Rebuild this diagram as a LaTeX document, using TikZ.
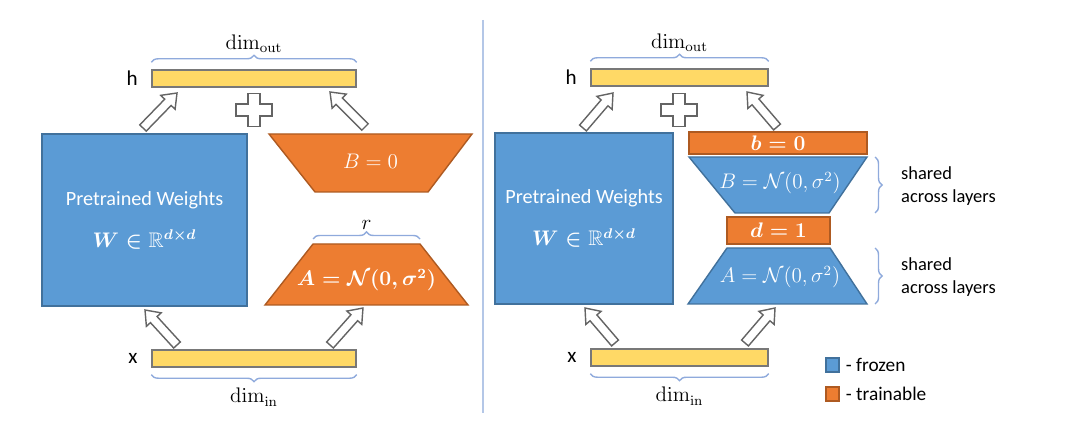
\documentclass[tikz,border=0pt]{standalone}
\usepackage[no-math]{fontspec}
\setmainfont{Carlito}
\usepackage{amsmath,amssymb}
\usetikzlibrary{positioning,calc,decorations.pathreplacing}
\definecolor{frz}{RGB}{91,155,213}
\definecolor{frzedge}{RGB}{65,113,156}
\definecolor{trn}{RGB}{237,125,49}
\definecolor{trnedge}{RGB}{174,90,33}
\definecolor{vecfill}{RGB}{255,217,102}
\definecolor{vecedge}{RGB}{120,120,120}
\definecolor{brc}{RGB}{143,170,220}
\definecolor{sepline}{RGB}{180,199,231}
\definecolor{arr}{RGB}{100,100,100}
\tikzset{
  vec/.style={draw=vecedge,fill=vecfill,thick,minimum height=3.4mm,inner sep=0pt},
  frozen/.style={draw=frzedge,fill=frz,thick},
  trainable/.style={draw=trnedge,fill=trn,thick},
  inbox/.style={text=white,font=\fontsize{11.5}{14}\selectfont,align=center},
  mtxt/.style={text=white,font=\fontsize{12}{14}\selectfont},
  mbold/.style={text=white,font=\fontsize{12}{14}\selectfont\boldmath},
  lbl/.style={font=\fontsize{12}{14}\selectfont},
  dimlbl/.style={font=\fontsize{12}{14}\selectfont},
  curly/.style={draw=brc,thick,decorate,decoration={brace,amplitude=4pt}},
  hollow/.style={draw=arr,fill=white,line width=0.8pt},
  note/.style={font=\fontsize{10.5}{13}\selectfont,align=left,anchor=west},
  key/.style={font=\fontsize{11}{13}\selectfont},
  % pictograms
  pics/plus/.style={code={
    \draw[hollow] (-0.12,0.33) -- (0.12,0.33) -- (0.12,0.12) -- (0.36,0.12) -- (0.36,-0.12) -- (0.12,-0.12)
      -- (0.12,-0.33) -- (-0.12,-0.33) -- (-0.12,-0.12) -- (-0.36,-0.12) -- (-0.36,0.12) -- (-0.12,0.12) -- cycle;
  }},
}
% hollow block arrow from #1 to #2
\newcommand{\blockarrow}[2]{%
  \path let \p1=($(#2)-(#1)$) in \pgfextra{%
    \pgfmathsetmacro{\arrang}{atan2(\y1,\x1)}%
    \pgfmathsetmacro{\arrlen}{veclen(\x1,\y1)/28.45274}%
    \xdef\arrang{\arrang}\xdef\arrlen{\arrlen}};
  \begin{scope}[shift={(#1)},rotate=\arrang]
    \draw[hollow] (0,-0.09) -- (\arrlen-0.26,-0.09) -- (\arrlen-0.26,-0.2) -- (\arrlen,0)
      -- (\arrlen-0.26,0.2) -- (\arrlen-0.26,0.09) -- (0,0.09) -- cycle;
  \end{scope}}

\begin{document}
\begin{tikzpicture}
  \useasboundingbox (0,0) rectangle (21.6,8.58);
  % ---- left: LoRA
  \node[vec,minimum width=40.8mm] (hL) at (5.08,7.01) {};
  \node[lbl,left=1.5mm of hL] (hLl) {h};
  \draw[curly] ([yshift=1.4mm]hL.north west) -- ([yshift=1.4mm]hL.north east)
    node[midway,above=0.6mm,dimlbl] (doL) {$\mathrm{dim}_{\mathrm{out}}$};
  \node[vec,minimum width=40.8mm] (xL) at (5.08,1.41) {};
  \node[lbl,left=1.5mm of xL] (xLl) {x};
  \draw[curly] ([yshift=-1.4mm]xL.south east) -- ([yshift=-1.4mm]xL.south west)
    node[midway,below=1.4mm,dimlbl] (diL) {$\mathrm{dim}_{\mathrm{in}}$};
  \node[frozen,minimum width=41mm,minimum height=34.4mm,inbox] (WL) at (2.89,4.18)
    {Pretrained Weights\\[3.5mm]{\fontsize{12}{14}\selectfont\boldmath$W\in\mathbb{R}^{d\times d}$}};
  \filldraw[trainable] (5.38,5.9) -- (9.44,5.9) -- (8.56,4.74) -- (6.3,4.74) -- cycle;
  \node[mtxt] (BL) at (7.41,5.36) {$B=0$};
  \filldraw[trainable] (6.26,3.7) -- (8.4,3.7) -- (9.36,2.48) -- (5.3,2.48) -- cycle;
  \node[mbold] (AL) at (7.33,2.98) {$A=\mathcal{N}(0,\sigma^2)$};
  \draw[curly] (6.26,3.8) -- (8.4,3.8) node[midway,above=0.5mm,dimlbl] (rL) {$r$};
  \pic at (5.08,6.38) {plus};
  \coordinate (WLo) at (2.86,6.02); \coordinate (hLa) at (3.54,6.72);
  \coordinate (BLo) at (7.3,6.04);  \coordinate (hLb) at (6.6,6.74);
  \coordinate (xLa) at (3.54,1.68); \coordinate (WLi) at (2.9,2.38);
  \coordinate (xLb) at (6.6,1.68);  \coordinate (ALi) at (7.26,2.42);
  \blockarrow{WLo}{hLa} \blockarrow{BLo}{hLb}
  \blockarrow{xLa}{WLi} \blockarrow{xLb}{ALi}

  \draw[sepline,thick] (9.66,8.18) -- (9.66,0.32);

  % ---- right: VeRA
  \node[vec,minimum width=35.4mm] (hR) at (13.59,7.03) {};
  \node[lbl,left=1.5mm of hR] (hRl) {h};
  \draw[curly] ([yshift=1.4mm]hR.north west) -- ([yshift=1.4mm]hR.north east)
    node[midway,above=0.6mm,dimlbl] (doR) {$\mathrm{dim}_{\mathrm{out}}$};
  \node[vec,minimum width=35.4mm] (xR) at (13.59,1.43) {};
  \node[lbl,left=1.5mm of xR] (xRl) {x};
  \draw[curly] ([yshift=-1.4mm]xR.south east) -- ([yshift=-1.4mm]xR.south west)
    node[midway,below=1.4mm,dimlbl] (diR) {$\mathrm{dim}_{\mathrm{in}}$};
  \node[frozen,minimum width=35.6mm,minimum height=34.2mm,inbox] (WR) at (11.68,4.21)
    {Pretrained Weights\\[3.5mm]{\fontsize{12}{14}\selectfont\boldmath$W\in\mathbb{R}^{d\times d}$}};
  \node[trainable,minimum width=35.6mm,minimum height=4.4mm,inner sep=0pt,mbold] (bR) at (15.56,5.72) {$b=0$};
  \filldraw[frozen] (13.78,5.44) -- (17.34,5.44) -- (16.58,4.32) -- (14.7,4.32) -- cycle;
  \node[mtxt] (BR) at (15.6,4.92) {$B=\mathcal{N}(0,\sigma^2)$};
  \node[trainable,minimum width=20.6mm,minimum height=5.4mm,inner sep=0pt,mbold] (dR) at (15.57,3.97) {$d=1$};
  \filldraw[frozen] (14.54,3.62) -- (16.6,3.62) -- (17.34,2.5) -- (13.76,2.5) -- cycle;
  \node[mtxt] (AR) at (15.6,3.04) {$A=\mathcal{N}(0,\sigma^2)$};
  \draw[curly] (17.5,5.44) -- (17.5,4.32);
  \node[note] (shB) at (17.9,4.86) {shared\\across layers};
  \draw[curly] (17.5,3.62) -- (17.5,2.5);
  \node[note] (shA) at (17.9,3.04) {shared\\across layers};
  \pic at (13.58,6.38) {plus};
  \coordinate (WRo) at (11.66,6.02); \coordinate (hRa) at (12.26,6.72);
  \coordinate (bRo) at (15.54,6.04); \coordinate (hRb) at (14.94,6.74);
  \coordinate (xRa) at (12.3,1.72);  \coordinate (WRi) at (11.7,2.42);
  \coordinate (xRb) at (14.9,1.72);  \coordinate (ARi) at (15.5,2.42);
  \blockarrow{WRo}{hRa} \blockarrow{bRo}{hRb}
  \blockarrow{xRa}{WRi} \blockarrow{xRb}{ARi}

  % legend
  \node[frozen,minimum width=2.6mm,minimum height=2.8mm,inner sep=0pt] (kf) at (16.65,1.28) {};
  \node[key,right=0mm of kf] (kfl) {- frozen};
  \node[trainable,minimum width=2.6mm,minimum height=2.8mm,inner sep=0pt] (kt) at (16.65,0.7) {};
  \node[key,right=0mm of kt] (ktl) {- trainable};
\end{tikzpicture}
\end{document}
